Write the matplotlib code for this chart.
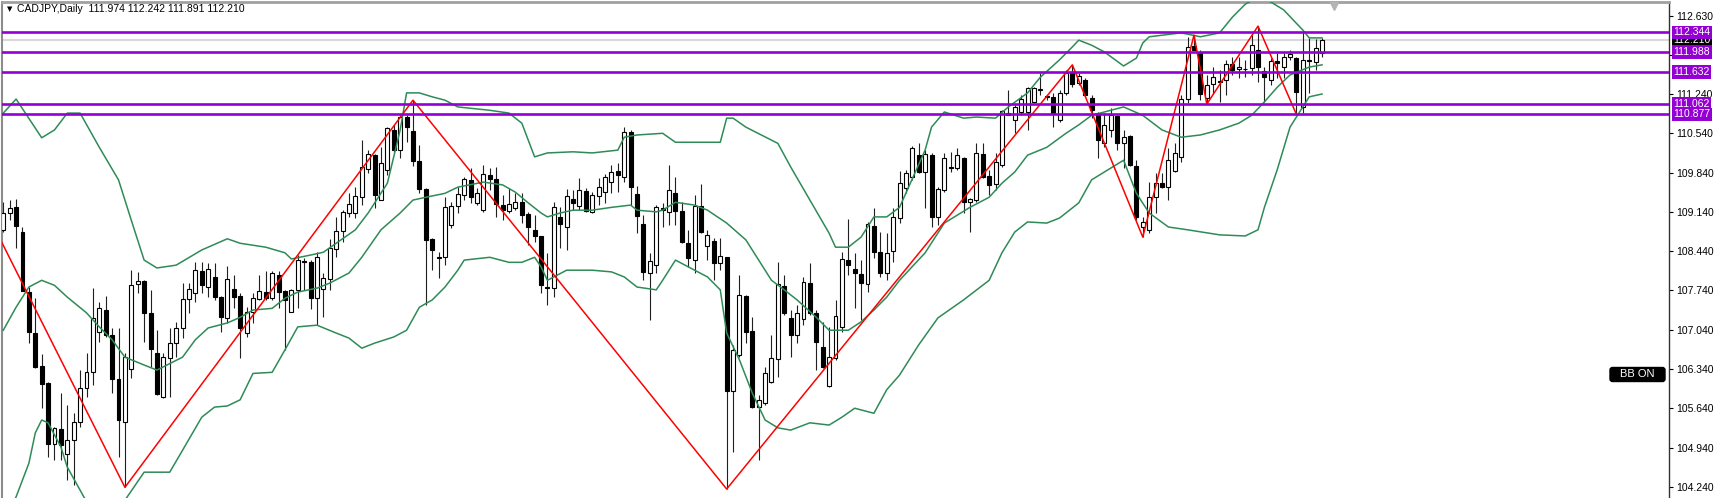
import matplotlib.pyplot as plt
import numpy as np
from matplotlib.patches import FancyBboxPatch
from matplotlib.transforms import blended_transform_factory

symbol_title = "CADJPY,Daily  111.974 112.242 111.891 112.210"

opens = [
    108.82, 109.12, 109.23, 108.78, 107.71, 106.98, 106.39, 106.09, 105.00, 105.27,
    104.82, 105.07, 105.39, 106.00, 106.28, 107.00, 107.39, 106.94, 106.16, 105.39,
    106.34, 107.85, 107.91, 107.34, 106.62, 105.84, 106.53, 106.80, 107.07, 107.59,
    107.69, 108.08, 107.80, 107.98, 107.62, 107.25, 107.76, 107.64, 106.98, 107.35,
    107.59, 107.71, 107.60, 108.01, 107.73, 107.35, 107.75, 108.26, 108.24, 107.60,
    107.76, 107.94, 108.48, 108.80, 109.12, 109.12, 109.40, 109.90, 110.16, 109.35,
    109.89, 110.60, 110.24, 110.83, 110.58, 110.05, 109.55, 108.66, 108.33, 108.33,
    108.90, 109.24, 109.44, 109.71, 109.30, 109.17, 109.80, 109.72, 109.26, 109.15,
    109.21, 109.31, 109.10, 108.82, 108.71, 107.80, 107.78, 109.05, 108.87, 109.37,
    109.24, 109.51, 109.14, 109.42, 109.49, 109.67, 109.87, 109.76, 110.56, 109.46,
    108.92, 108.05, 108.19, 109.21, 109.14, 109.47, 109.15, 108.58, 108.28, 109.24,
    108.53, 108.62, 108.23, 108.33, 105.95, 106.59, 107.64, 107.02, 105.66, 105.73,
    106.11, 106.52, 107.82, 107.25, 106.94, 107.23, 107.87, 107.34, 106.73, 106.03,
    106.53, 107.09, 108.28, 108.12, 108.03, 107.85, 108.89, 108.42, 108.05, 108.44,
    109.03, 109.56, 109.76, 110.16, 109.85, 110.16, 109.05, 109.53, 109.94, 109.92,
    110.10, 109.31, 109.35, 110.17, 109.78, 109.64, 109.97, 110.90, 110.78, 110.92,
    110.92, 111.10, 111.31, 111.20, 111.19, 110.78, 111.26, 111.63, 111.44, 111.49,
    111.17, 110.90, 110.37, 110.60, 110.85, 110.37, 110.49, 109.96, 108.87, 108.82,
    109.40, 109.65, 109.58, 109.87, 110.12, 111.15, 112.10, 111.99, 111.17, 111.42,
    111.47, 111.49, 111.77, 111.69, 111.69, 111.70, 112.02, 111.65, 111.49, 111.83,
    111.72, 111.90, 111.88, 111.01, 111.85, 111.81, 111.974,
]
highs = [
    109.31, 109.35, 109.37, 108.87, 107.80, 107.60, 106.61, 106.10, 105.31, 105.91,
    105.70, 105.55, 106.32, 106.62, 107.78, 107.53, 107.64, 107.07, 107.07, 106.62,
    108.10, 108.07, 107.92, 107.75, 107.03, 106.62, 107.07, 107.18, 107.87, 107.87,
    108.25, 108.25, 108.23, 108.23, 107.64, 108.17, 108.01, 107.69, 107.44, 107.69,
    108.01, 108.08, 108.08, 108.08, 107.75, 107.76, 108.37, 108.32, 108.28, 108.42,
    108.05, 108.66, 109.05, 109.17, 109.47, 109.58, 110.42, 110.24, 110.17, 110.30,
    110.65, 110.69, 110.87, 110.87, 111.13, 110.33, 109.56, 108.67, 108.42, 109.40,
    109.31, 109.58, 109.76, 109.92, 109.56, 109.97, 109.92, 109.94, 109.44, 109.56,
    109.47, 109.47, 109.14, 109.08, 108.71, 108.41, 109.31, 109.23, 109.55, 109.53,
    109.74, 109.56, 109.49, 109.74, 109.81, 109.97, 110.01, 110.65, 110.60, 109.60,
    109.08, 108.41, 109.26, 109.30, 109.97, 109.76, 109.31, 108.82, 109.44, 109.64,
    108.82, 108.67, 108.67, 108.34, 106.77, 108.01, 107.66, 107.27, 105.87, 106.37,
    106.94, 108.24, 108.01, 107.39, 107.48, 107.98, 108.23, 107.39, 107.18, 107.09,
    107.57, 108.42, 109.01, 108.41, 108.28, 108.96, 109.21, 108.78, 108.76, 109.21,
    109.87, 109.89, 110.31, 110.37, 110.24, 110.19, 109.58, 110.19, 110.21, 110.28,
    110.12, 109.39, 110.37, 110.37, 109.89, 110.19, 110.95, 111.31, 111.04, 111.22,
    111.36, 111.36, 111.61, 111.22, 111.26, 111.31, 111.67, 111.76, 111.61, 111.52,
    111.22, 110.92, 110.90, 110.99, 110.87, 110.60, 110.51, 110.06, 109.05, 109.67,
    109.83, 109.83, 110.28, 110.37, 111.22, 112.26, 112.29, 112.02, 111.58, 111.72,
    111.67, 111.85, 111.90, 111.90, 111.85, 112.29, 112.45, 111.72, 111.88, 111.97,
    111.97, 112.02, 111.90, 112.36, 112.24, 112.22, 112.242,
]
lows = [
    108.78, 108.99, 108.49, 107.73, 106.80, 106.35, 105.64, 104.77, 104.72, 104.72,
    104.36, 104.27, 105.30, 105.84, 106.05, 106.82, 106.91, 105.91, 104.77, 104.23,
    106.18, 107.69, 106.82, 106.37, 105.88, 105.82, 105.84, 106.55, 106.89, 107.34,
    107.53, 107.69, 107.62, 107.57, 107.00, 107.16, 107.43, 106.53, 106.91, 107.16,
    107.57, 107.57, 107.57, 107.43, 106.68, 107.35, 107.43, 107.75, 107.41, 107.12,
    107.27, 107.75, 108.33, 108.60, 109.05, 109.03, 109.26, 109.83, 109.21, 109.35,
    109.80, 110.21, 110.10, 110.38, 109.96, 109.47, 107.48, 108.10, 107.96, 108.19,
    108.85, 109.12, 109.35, 109.30, 109.26, 109.14, 109.53, 109.05, 108.99, 109.12,
    109.17, 108.94, 108.55, 108.60, 107.69, 107.48, 107.62, 108.49, 108.46, 109.17,
    109.17, 109.14, 109.12, 109.26, 109.30, 109.47, 109.49, 109.67, 109.26, 108.76,
    107.92, 107.21, 108.05, 108.87, 108.90, 108.90, 108.58, 108.16, 108.05, 108.77,
    108.28, 107.92, 108.10, 104.20, 104.86, 106.55, 106.80, 105.65, 104.72, 105.70,
    106.09, 106.20, 107.30, 106.55, 106.80, 107.12, 107.30, 106.32, 106.35, 106.02,
    106.50, 107.00, 108.01, 107.43, 107.21, 107.71, 108.32, 107.98, 107.92, 108.24,
    108.94, 109.47, 109.71, 109.83, 109.21, 108.87, 108.90, 109.49, 109.85, 109.89,
    109.12, 108.78, 109.31, 109.74, 109.44, 109.53, 109.94, 110.86, 110.54, 110.87,
    110.60, 111.08, 111.22, 111.13, 110.65, 110.74, 111.22, 111.37, 111.40, 111.19,
    110.81, 110.10, 110.30, 110.47, 110.24, 109.92, 109.96, 108.99, 108.69, 108.76,
    109.12, 109.56, 109.35, 109.85, 110.03, 111.08, 112.02, 111.13, 111.06, 111.24,
    111.10, 111.22, 111.58, 111.52, 111.54, 111.58, 111.45, 111.10, 111.40, 111.52,
    111.52, 111.85, 110.877, 110.90, 111.26, 111.67, 111.891,
]
closes = [
    109.12, 109.21, 108.89, 107.73, 107.00, 106.37, 106.07, 105.00, 105.29, 104.98,
    105.07, 105.39, 106.00, 106.28, 107.25, 107.43, 106.94, 106.16, 105.43, 106.55,
    107.84, 107.91, 107.34, 106.69, 105.89, 106.55, 106.80, 107.07, 107.59, 107.76,
    108.10, 107.84, 108.12, 107.62, 107.27, 107.94, 107.62, 107.07, 107.35, 107.60,
    107.73, 107.60, 108.05, 107.71, 107.57, 107.75, 108.28, 108.24, 107.60, 108.33,
    107.96, 108.49, 108.80, 109.14, 109.28, 109.42, 109.94, 110.17, 109.44, 110.01,
    110.63, 110.24, 110.83, 110.65, 110.05, 109.55, 108.64, 108.46, 108.32, 109.23,
    109.24, 109.46, 109.72, 109.40, 109.47, 109.81, 109.72, 109.28, 109.17, 109.28,
    109.31, 109.08, 108.87, 108.71, 107.84, 107.79, 109.23, 108.92, 109.42, 109.30,
    109.53, 109.15, 109.44, 109.58, 109.76, 109.85, 109.80, 110.56, 109.58, 109.07,
    108.07, 108.26, 109.23, 109.17, 109.53, 109.15, 108.60, 108.32, 109.24, 108.78,
    108.73, 108.23, 108.35, 105.95, 106.68, 107.66, 107.00, 105.66, 105.79, 106.27,
    106.53, 107.85, 107.34, 106.94, 107.34, 107.89, 107.34, 106.82, 106.37, 106.55,
    107.28, 108.30, 108.19, 108.05, 107.87, 108.92, 108.42, 108.05, 108.41, 109.05,
    109.65, 109.83, 110.28, 109.85, 110.17, 109.05, 109.55, 110.10, 109.92, 110.16,
    109.31, 109.37, 110.19, 109.76, 109.62, 110.03, 110.94, 110.87, 111.01, 111.15,
    111.35, 111.35, 111.33, 111.18, 110.90, 111.26, 111.61, 111.42, 111.56, 111.22,
    110.95, 110.42, 110.69, 110.87, 110.37, 110.47, 109.97, 109.05, 108.96, 109.40,
    109.65, 109.58, 110.06, 110.19, 111.15, 112.08, 112.02, 111.24, 111.40, 111.54,
    111.45, 111.77, 111.67, 111.72, 111.68, 112.11, 111.72, 111.54, 111.83, 111.79,
    111.90, 111.95, 111.28, 111.85, 111.82, 112.06, 112.210,
]

# Bollinger bands at the bars where they turn
bb_upper_idx = [
    0, 2, 6, 8, 10, 12, 15, 18, 20, 22, 24, 27, 31, 35, 37, 41, 44, 45, 48, 50,
    52, 55, 57, 60, 62, 63, 65, 67, 69, 71, 76, 79, 81, 83, 85, 89, 92, 96, 97, 99,
    103, 105, 112, 113, 114, 116, 121, 123, 126, 129, 130, 132, 134, 136, 138, 140, 144, 145, 147, 150,
    152, 155, 157, 160, 162, 165, 167, 168, 170, 172, 175, 177, 178, 179, 184, 187, 190, 192, 194, 196,
    198, 200, 203, 204, 206,
]
bb_upper = [
    110.90, 111.15, 110.46, 110.60, 110.90, 110.90, 110.29, 109.71, 108.99, 108.28,
    108.14, 108.19, 108.46, 108.66, 108.58, 108.51, 108.41, 108.30, 108.37, 108.42,
    108.58, 108.82, 109.12, 109.65, 110.60, 111.26, 111.26, 111.19, 111.13, 111.01,
    110.95, 110.90, 110.72, 110.12, 110.19, 110.21, 110.19, 110.24, 110.47, 110.51,
    110.54, 110.38, 110.38, 110.81, 110.81, 110.65, 110.36, 109.94, 109.35, 108.76,
    108.51, 108.51, 108.69, 109.05, 109.05, 109.22, 110.24, 110.65, 110.92, 110.81,
    110.83, 110.81, 111.01, 111.26, 111.54, 111.85, 112.08, 112.20, 112.11, 111.99,
    111.74, 111.88, 112.15, 112.26, 112.33, 112.26, 112.33, 112.61, 112.84, 112.97,
    112.88, 112.74, 112.38, 112.24, 112.24,
]
bb_mid_idx = [
    0, 2, 4, 6, 8, 10, 13, 15, 17, 19, 22, 24, 28, 30, 32, 35, 37, 39, 42, 44,
    46, 49, 51, 54, 56, 59, 62, 64, 66, 69, 71, 75, 78, 80, 82, 84, 85, 87, 89, 92,
    95, 98, 99, 102, 103, 105, 108, 110, 113, 116, 118, 120, 122, 124, 127, 129, 132, 134, 136, 138,
    140, 144, 147, 151, 154, 156, 158, 160, 163, 166, 168, 170, 172, 175, 178, 181, 184, 187, 190, 193,
    195, 197, 199, 201, 204, 206,
]
bb_mid = [
    107.03, 107.44, 107.80, 107.92, 107.83, 107.62, 107.34, 107.09, 106.86, 106.55,
    106.41, 106.32, 106.55, 106.86, 107.07, 107.16, 107.26, 107.39, 107.42, 107.60,
    107.71, 107.78, 107.87, 108.05, 108.33, 108.82, 109.12, 109.35, 109.40, 109.47,
    109.58, 109.67, 109.62, 109.49, 109.30, 109.12, 109.05, 109.12, 109.17, 109.17,
    109.22, 109.26, 109.17, 109.14, 109.17, 109.31, 109.26, 109.17, 108.94, 108.64,
    108.28, 107.92, 107.75, 107.57, 107.26, 107.03, 107.03, 107.18, 107.39, 107.62,
    107.92, 108.41, 108.94, 109.22, 109.40, 109.65, 109.85, 110.15, 110.29, 110.54,
    110.69, 110.86, 110.92, 111.01, 110.86, 110.60, 110.47, 110.51, 110.60, 110.72,
    110.86, 111.10, 111.36, 111.58, 111.72, 111.76,
]
bb_low_idx = [
    0, 2, 4, 5, 6, 7, 9, 10, 12, 15, 18, 19, 22, 26, 28, 31, 33, 35, 37, 39,
    42, 44, 46, 49, 52, 54, 56, 58, 61, 63, 65, 67, 69, 71, 72, 76, 79, 81, 83, 84,
    85, 88, 92, 95, 97, 99, 102, 103, 105, 107, 110, 112, 113, 115, 117, 119, 121, 123, 126, 129,
    131, 133, 136, 138, 140, 143, 146, 150, 154, 156, 158, 160, 163, 165, 168, 170, 172, 175, 177, 179,
    182, 185, 190, 194, 196, 197, 199, 201, 204, 206,
]
bb_low = [
    103.60, 104.06, 104.66, 105.20, 105.43, 105.38, 104.95, 104.59, 104.18, 103.56,
    103.47, 104.00, 104.50, 104.50, 104.89, 105.48, 105.66, 105.68, 105.79, 106.26,
    106.28, 106.68, 107.09, 107.12, 106.98, 106.89, 106.71, 106.80, 106.91, 107.03,
    107.44, 107.57, 107.80, 108.10, 108.28, 108.33, 108.24, 108.24, 108.33, 108.16,
    107.92, 108.10, 108.10, 108.07, 107.98, 107.80, 107.75, 107.92, 108.28, 108.16,
    107.98, 107.75, 106.98, 106.50, 105.91, 105.43, 105.29, 105.25, 105.38, 105.34,
    105.48, 105.64, 105.55, 105.97, 106.23, 106.77, 107.25, 107.57, 107.92, 108.41,
    108.78, 108.96, 108.94, 109.03, 109.30, 109.71, 109.85, 110.06, 109.47, 109.12,
    108.87, 108.82, 108.73, 108.71, 108.82, 109.22, 109.89, 110.65, 111.19, 111.24,
]

zigzag_idx = [-1, 19, 64, 113, 167, 178, 186, 188, 196, 202]
zigzag_vals = [108.77, 104.23, 111.13, 104.20, 111.76, 108.69, 112.29, 111.06, 112.45, 110.877]

levels = [112.344, 111.988, 111.632, 111.062, 110.877]
bid_price = 112.210

# 111.935 sits behind the 111.988 level tag, so its label stays empty
y_ticks = [104.24, 104.94, 105.64, 106.34, 107.04, 107.74, 108.44,
           109.14, 109.84, 110.54, 111.24, 111.935, 112.63]
hidden_ticks = [111.935]

PURPLE = "#9400D3"
GREEN = "#2E8B57"


def plot_chart():
    plt.rcParams["font.family"] = ["Liberation Sans", "DejaVu Sans"]

    fig = plt.figure(figsize=(17.2, 4.98), dpi=100)
    ax = fig.add_axes([2 / 1720, 0, 1667 / 1720, 496 / 498])

    o = np.array(opens)
    h = np.array(highs)
    l = np.array(lows)
    c = np.array(closes)
    x = np.arange(len(c))
    up = c >= o

    # candles
    ax.vlines(x, l, h, color="#202020", lw=0.8, zorder=2)
    ax.bar(x[up], (c - o)[up], bottom=o[up], width=0.62,
           facecolor="white", edgecolor="black", lw=0.8, zorder=3)
    ax.bar(x[~up], (o - c)[~up], bottom=c[~up], width=0.62,
           facecolor="black", edgecolor="black", lw=0.8, zorder=3)

    # indicators
    for idx, vals in [(bb_upper_idx, bb_upper), (bb_mid_idx, bb_mid), (bb_low_idx, bb_low)]:
        ax.plot(idx, vals, color=GREEN, lw=1.1, zorder=4)
    ax.plot(zigzag_idx, zigzag_vals, color="red", lw=1.1, zorder=5)

    ax.axhline(bid_price, color="#D9D9D9", lw=1.5, zorder=1)
    for lv in levels:
        ax.axhline(lv, color=PURPLE, lw=1.9, zorder=6)

    ax.set_xlim(-0.2, 260.2)
    ax.set_ylim(104.04, 112.88)

    # right price scale
    ax.yaxis.tick_right()
    ax.set_yticks(y_ticks)
    ax.set_yticklabels(["" if t in hidden_ticks else f"{t:.3f}" for t in y_ticks])
    ax.tick_params(axis="y", direction="out", length=3, width=0.8, pad=2,
                   labelsize=7.5, colors="black")
    ax.set_xticks([])

    ax.spines["bottom"].set_visible(False)
    ax.spines["left"].set_color("#8C8C8C")
    ax.spines["left"].set_linewidth(1.5)
    ax.spines["top"].set_color("#A0A0A0")
    ax.spines["top"].set_linewidth(2)
    ax.spines["right"].set_color("#333333")
    ax.spines["right"].set_linewidth(1)

    trans = blended_transform_factory(ax.transAxes, ax.transData)
    ax.annotate(f"{bid_price:.3f}", xy=(1, bid_price), xycoords=trans,
                xytext=(3.2, 0), textcoords="offset points", color="white",
                fontsize=7.5, ha="left", va="center", annotation_clip=False,
                bbox=dict(boxstyle="square,pad=0.15", fc="black", ec="none"), zorder=9)
    for lv in levels:
        ax.annotate(f"{lv:.3f}", xy=(1, lv), xycoords=trans,
                    xytext=(3.2, 0), textcoords="offset points", color="white",
                    fontsize=7.5, ha="left", va="center", annotation_clip=False,
                    bbox=dict(boxstyle="square,pad=0.15", fc=PURPLE, ec="none"), zorder=10)

    # header
    ax.text(5 / 1667, 0.986, "\u25bc", transform=ax.transAxes, fontsize=5,
            family="DejaVu Sans", va="center", ha="left")
    ax.text(15 / 1667, 0.986, symbol_title, transform=ax.transAxes,
            fontsize=7.5, va="center", ha="left")

    # chart shift marker
    ax.plot([207.8], [0.992], transform=blended_transform_factory(ax.transData, ax.transAxes),
            marker="v", color="#B4B4B4", ms=6, clip_on=False, zorder=7)

    # BB ON button
    box = FancyBboxPatch((16.10, 1.165), 0.55, 0.14,
                         boxstyle="round,pad=0,rounding_size=0.025",
                         transform=fig.dpi_scale_trans, fc="black", ec="black")
    fig.patches.append(box)
    fig.text(16.375, 1.236, "BB ON", transform=fig.dpi_scale_trans, color="white",
             fontsize=8, ha="center", va="center")

    fig.savefig("out.png", dpi=100)


if __name__ == "__main__":
    plot_chart()
